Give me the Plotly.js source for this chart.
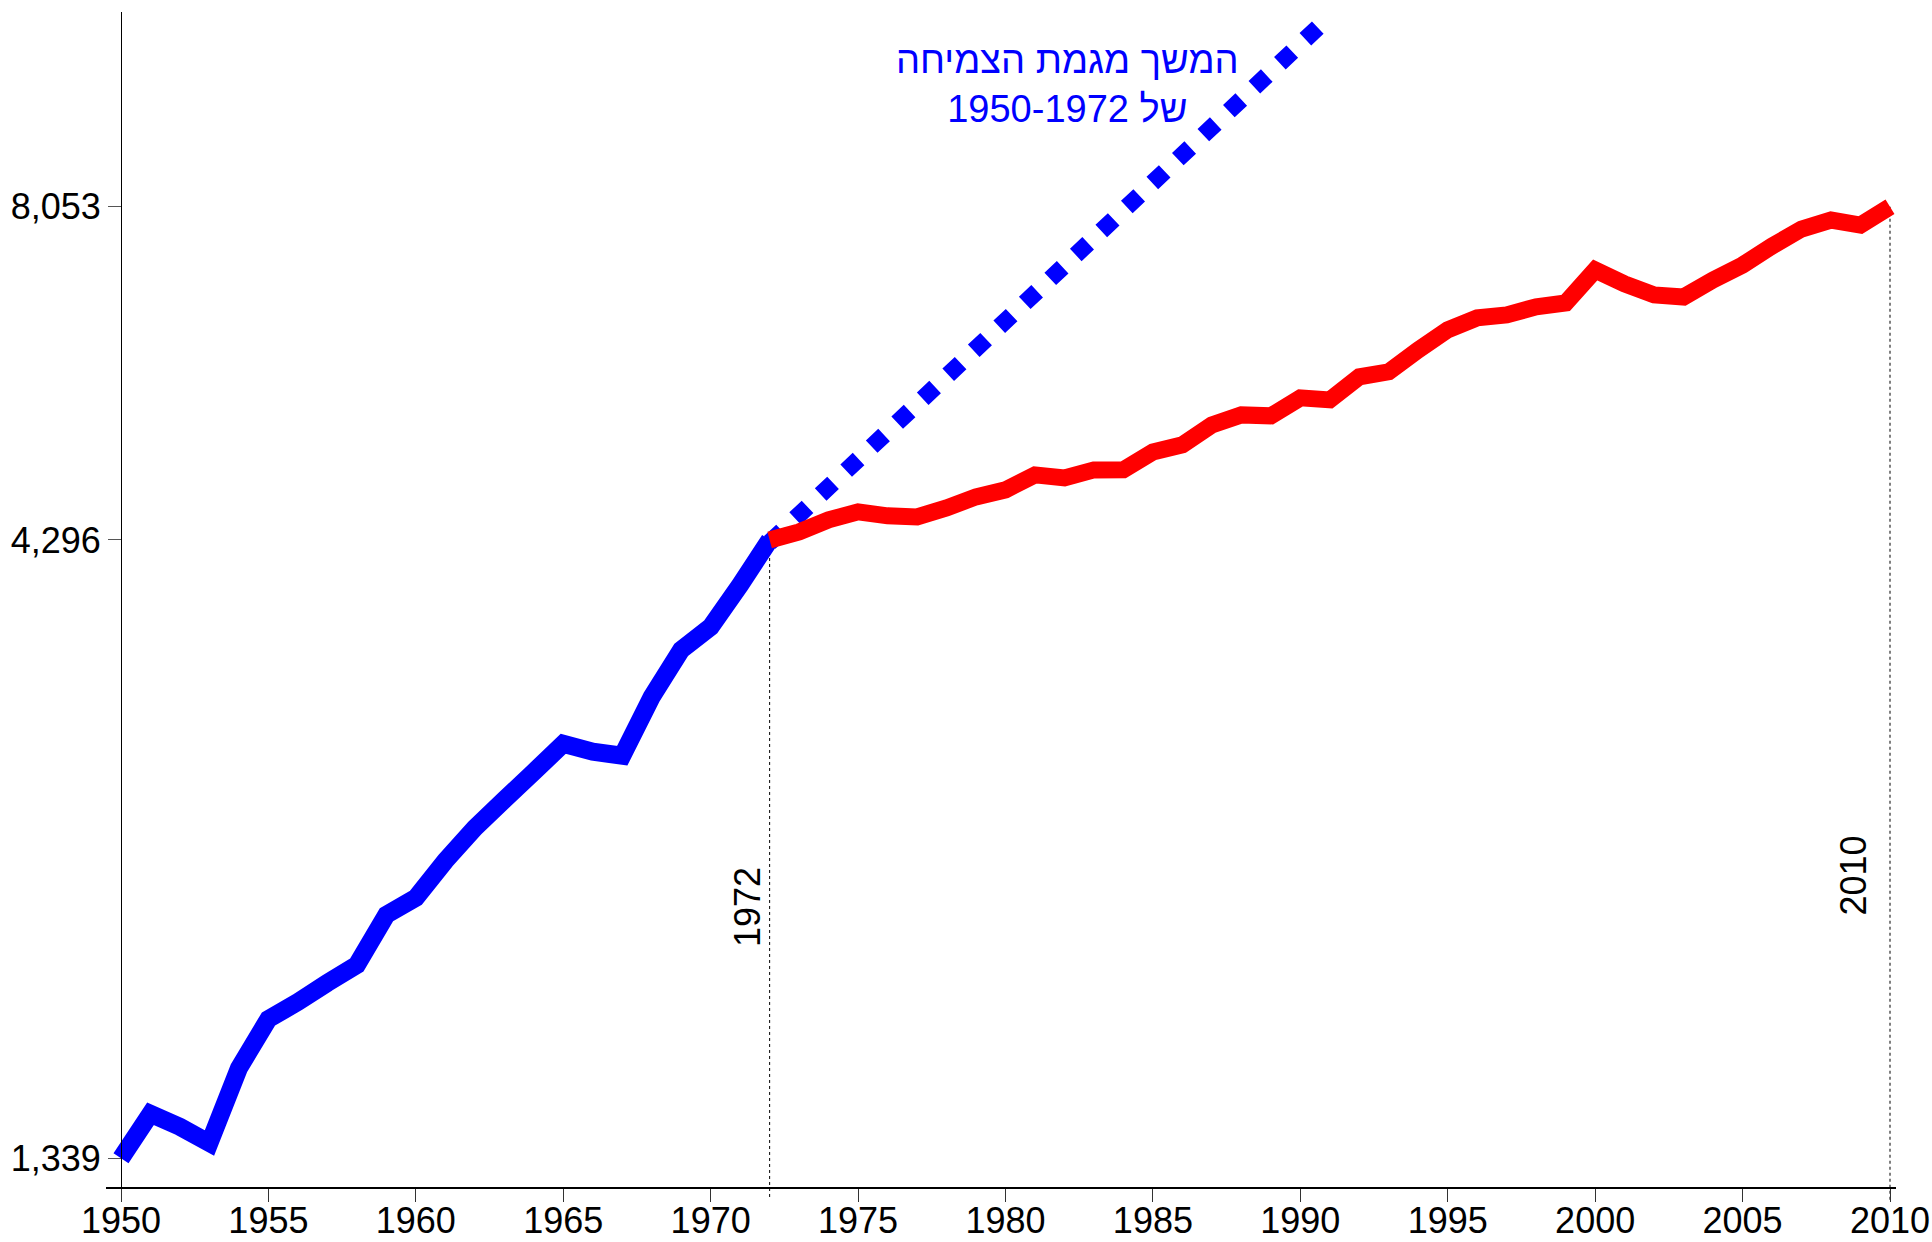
<!DOCTYPE html>
<html>
<head>
<meta charset="utf-8">
<script src="https://cdn.plot.ly/plotly-3.0.1.min.js"></script>
<style>
  html, body { margin: 0; padding: 0; background: #ffffff; }
  #chart { width: 1932px; height: 1242px; }
</style>
</head>
<body>
<div id="chart"></div>
<script>
// ---- data ----
const yearsBefore = [1950,1951,1952,1953,1954,1955,1956,1957,1958,1959,1960,1961,1962,1963,1964,1965,1966,1967,1968,1969,1970,1971,1972];
const valuesBefore = [1339,1456,1421,1378,1587,1741,1798,1864,1928,2119,2188,2346,2496,2632,2774,2925,2882,2860,3196,3492,3647,3947,4296];

const yearsAfter = [1972,1973,1974,1975,1976,1977,1978,1979,1980,1981,1982,1983,1984,1985,1986,1987,1988,1989,1990,1991,1992,1993,1994,1995,1996,1997,1998,1999,2000,2001,2002,2003,2004,2005,2006,2007,2008,2009,2010];
const valuesAfter = [4296,4362,4462,4530,4496,4487,4564,4660,4722,4857,4830,4903,4905,5072,5140,5337,5439,5429,5616,5595,5843,5899,6148,6385,6531,6568,6668,6718,7148,6962,6819,6793,7015,7215,7478,7722,7854,7780,8053];

const trendYears = [1972, 1990.6];
const trendValues = [4276, 11293];

const yTickValues = [1339, 4296, 8053];
const xTickStart = 1950, xTickStep = 5;

const markerYears = [1972, 2010];
const markerValues = [4296, 8053];

const annotationText = "המשך מגמת הצמיחה<br>\u202Bשל 1950-1972\u202C";

// ---- axes ----
const xRange = [1949.491, 2010.2035];
const yRangeLog = [3.09261, 4.06542];
const yBottomValue = Math.pow(10, yRangeLog[0]);

const FONT = '"Liberation Sans", Arial, "DejaVu Sans", sans-serif';

const traces = [];
// thin dotted reference lines
markerYears.forEach((yr, i) => {
  traces.push({
    x: [yr, yr], y: [markerValues[i], yBottomValue],
    mode: 'lines', type: 'scatter',
    line: {color: '#000000', width: 1, dash: '3px,3px'},
    hoverinfo: 'skip', cliponaxis: false
  });
});
traces.push({
  x: yearsBefore, y: valuesBefore, mode: 'lines', type: 'scatter',
  line: {color: '#0000ff', width: 18, simplify: false}
});
traces.push({
  x: trendYears, y: trendValues, mode: 'lines', type: 'scatter',
  line: {color: '#0000ff', width: 17, dash: '17px,18px', simplify: false},
  cliponaxis: false
});
traces.push({
  x: yearsAfter, y: valuesAfter, mode: 'lines', type: 'scatter',
  line: {color: '#ff0000', width: 17, simplify: false}
});

const layout = {
  width: 1932, height: 1242,
  margin: {l: 106, r: 36, t: 12, b: 42, pad: 0},
  paper_bgcolor: '#ffffff', plot_bgcolor: '#ffffff',
  showlegend: false,
  font: {family: FONT, color: '#000000', size: 36},
  xaxis: {
    range: xRange, type: 'linear',
    anchor: 'free', position: 0.01094,
    showgrid: false, zeroline: false,
    showline: true, linecolor: '#000000', linewidth: 1.5,
    ticks: 'outside', ticklen: 13, tickwidth: 1, tickcolor: '#333333',
    tick0: xTickStart, dtick: xTickStep,
    ticklabelstandoff: -12,
    tickfont: {family: FONT, size: 36, color: '#000000'}
  },
  yaxis: {
    type: 'log', range: yRangeLog,
    anchor: 'free', position: 0.00838,
    showgrid: false, zeroline: false,
    showline: true, linecolor: '#000000', linewidth: 1,
    ticks: 'outside', ticklen: 13, tickwidth: 1, tickcolor: '#555555',
    tickmode: 'array', tickvals: yTickValues,
    ticktext: yTickValues.map(v => v.toLocaleString('en-US')),
    tickfont: {family: FONT, size: 36, color: '#000000'}
  },
  annotations: [
    {
      xref: 'paper', yref: 'paper', x: 0.5374, y: 0.9386,
      xanchor: 'center', yanchor: 'middle', showarrow: false,
      text: annotationText, align: 'center',
      font: {family: FONT, size: 38, color: '#0000ff'}
    },
    {
      xref: 'x', yref: 'paper', x: markerYears[0], xshift: -22.6, y: 0.2466,
      xanchor: 'center', yanchor: 'middle', showarrow: false,
      text: String(markerYears[0]), textangle: -90,
      font: {family: FONT, size: 36, color: '#000000'}
    },
    {
      xref: 'x', yref: 'paper', x: markerYears[1], xshift: -36.5, y: 0.2727,
      xanchor: 'center', yanchor: 'middle', showarrow: false,
      text: String(markerYears[1]), textangle: -90,
      font: {family: FONT, size: 36, color: '#000000'}
    }
  ],
  hovermode: false
};

Plotly.newPlot('chart', traces, layout, {staticPlot: true, displayModeBar: false});
</script>
</body>
</html>
